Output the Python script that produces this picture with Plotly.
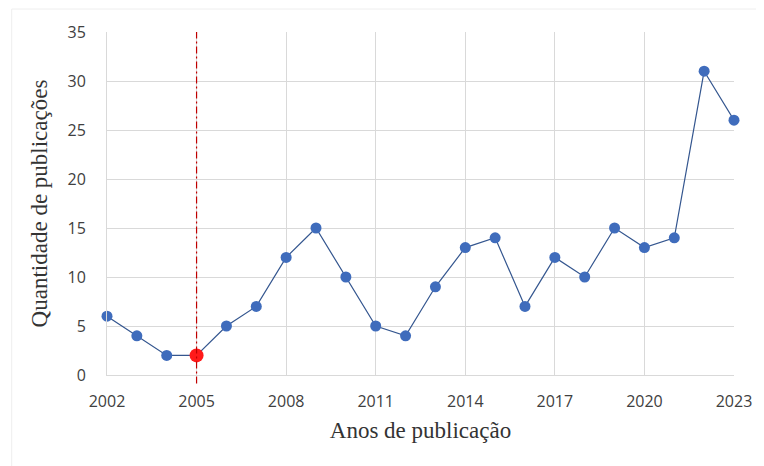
import plotly.graph_objects as go

years = list(range(2002, 2024))
counts = [6, 4, 2, 2, 5, 7, 12, 15, 10, 5, 4, 9, 13, 14, 7, 12, 10, 15, 13, 14, 31, 26]
highlight_year = 2005
highlight_value = 2
x_ticks = [2002, 2005, 2008, 2011, 2014, 2017, 2020, 2023]
y_ticks = [0, 5, 10, 15, 20, 25, 30, 35]

fig = go.Figure()
fig.add_trace(go.Scatter(
    x=years, y=counts, mode="lines+markers",
    line=dict(color="#34568f", width=1.2),
    marker=dict(color="#3f6cbc", size=11, line=dict(width=0)),
    showlegend=False, cliponaxis=False,
))
fig.add_shape(type="line", x0=highlight_year, x1=highlight_year, xref="x",
              y0=-0.025, y1=1, yref="paper",
              line=dict(color="#c00000", width=1.2, dash="7px,3px,2px,3px"), layer="above")
fig.add_trace(go.Scatter(
    x=[highlight_year], y=[highlight_value], mode="markers",
    marker=dict(color="#ff1a1a", size=14, line=dict(width=0)),
    showlegend=False, cliponaxis=False,
))
# faint outer frame
fig.add_shape(type="line", xref="paper", yref="paper", x0=-0.152, x1=1.1, y0=1.067, y1=1.067,
              line=dict(color="#eeeeee", width=1))
fig.add_shape(type="line", xref="paper", yref="paper", x0=-0.152, x1=-0.152, y0=1.067, y1=-0.3,
              line=dict(color="#eeeeee", width=1))

tickfont = dict(family="Open Sans, Liberation Sans, sans-serif", size=16, color="#404040")
titlefont = dict(family="Liberation Serif, DejaVu Serif, serif", size=23, color="#333333")

fig.update_layout(
    width=756, height=458,
    margin=dict(l=99, r=27, t=24, b=91),
    paper_bgcolor="white", plot_bgcolor="white",
    xaxis=dict(range=[2002, 2023], tickvals=x_ticks, ticktext=[str(v) for v in x_ticks],
               showgrid=True, gridcolor="#d9d9d9", gridwidth=1,
               showline=True, linecolor="#d9d9d9", zeroline=False,
               ticks="outside", ticklen=12, tickcolor="rgba(0,0,0,0)",
               tickfont=tickfont,
               title=dict(text="Anos de publicação", standoff=10, font=titlefont)),
    yaxis=dict(range=[0, 35], tickvals=y_ticks,
               showgrid=True, gridcolor="#d9d9d9", gridwidth=1,
               showline=True, linecolor="#d9d9d9", zeroline=False,
               ticks="outside", ticklen=17, tickcolor="rgba(0,0,0,0)",
               tickfont=tickfont,
               title=dict(text="Quantidade de publicações", standoff=13, font=titlefont)),
)
fig.write_html("out.html")
